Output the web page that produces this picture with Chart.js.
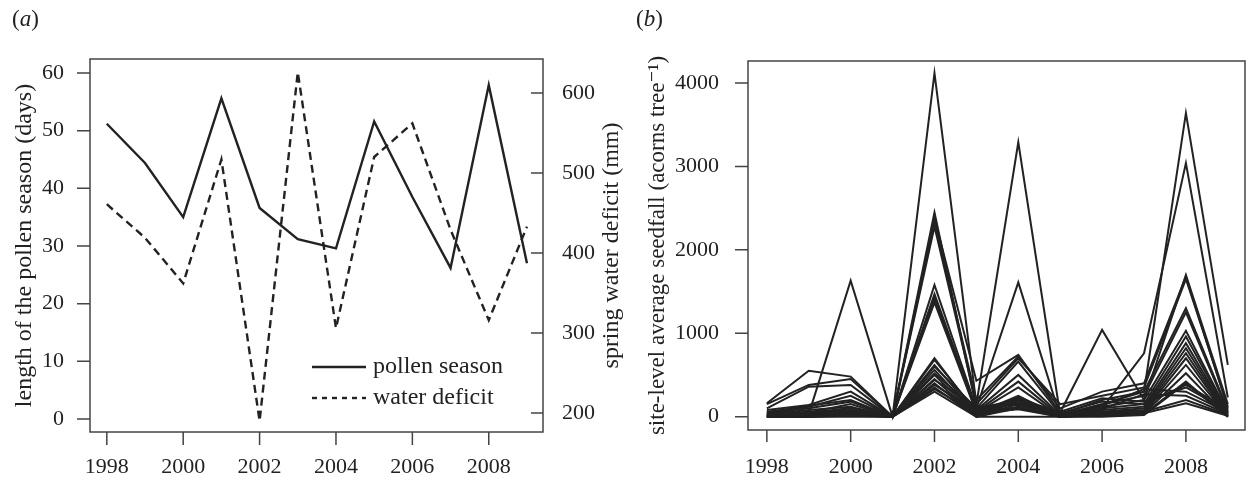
<!DOCTYPE html>
<html>
<head>
<meta charset="utf-8">
<script src="https://cdn.jsdelivr.net/npm/chart.js@4.4.1/dist/chart.umd.min.js"></script>
<style>
    body { margin: 0; background: #fff; width: 1247px; height: 477px; position: relative; overflow: hidden; }
    canvas { position: absolute; top: 0; }
    #chartA { left: 0; }
    #chartB { left: 630px; }
</style>
</head>
<body>
<canvas id="chartA" width="630" height="477"></canvas>
<canvas id="chartB" width="617" height="477"></canvas>
<script>
// Data
const years = [1998, 1999, 2000, 2001, 2002, 2003, 2004, 2005, 2006, 2007, 2008, 2009];
const pollenSeason = [51.2, 44.4, 35.0, 55.6, 36.6, 31.2, 29.6, 51.6, 38.5, 26.2, 57.9, 27.0]; // days
const waterDeficit = [461, 419, 362, 517, 190, 626, 306, 520, 562, 429, 316, 433];            // mm

// one row per site, acorns per tree for each year
const seedfallBySite = [
    [20, 50, 100, 0, 4120, 150, 3290, 20, 150, 300, 3640, 620],
    [50, 30, 1630, 0, 2450, 100, 1610, 0, 100, 760, 3040, 230],
    [160, 550, 480, 0, 2380, 430, 740, 50, 1040, 200, 1700, 150],
    [150, 380, 450, 0, 2330, 200, 720, 100, 300, 400, 1680, 100],
    [100, 360, 380, 0, 2280, 150, 700, 150, 250, 350, 1650, 120],
    [80, 140, 300, 0, 1580, 100, 660, 30, 200, 300, 1300, 80],
    [50, 130, 200, 0, 1470, 80, 500, 20, 150, 250, 1250, 60],
    [30, 50, 150, 0, 1420, 60, 420, 10, 120, 200, 1030, 50],
    [20, 40, 100, 0, 1370, 50, 350, 0, 100, 150, 960, 40],
    [10, 30, 80, 0, 700, 40, 250, 0, 80, 120, 880, 30],
    [0, 20, 60, 0, 620, 30, 220, 10, 60, 100, 820, 20],
    [0, 10, 50, 0, 560, 20, 200, 0, 50, 80, 760, 10],
    [10, 0, 40, 0, 500, 10, 180, 0, 40, 60, 700, 0],
    [0, 10, 30, 0, 450, 0, 150, 0, 30, 50, 620, 0],
    [0, 0, 20, 0, 400, 0, 120, 0, 20, 40, 520, 0],
    [0, 0, 10, 0, 350, 0, 100, 0, 10, 30, 420, 0],
    [0, 0, 0, 0, 300, 0, 0, 0, 0, 20, 400, 0],
    [30, 80, 120, 0, 680, 60, 230, 40, 180, 150, 380, 90],
    [60, 120, 250, 0, 600, 100, 200, 60, 220, 180, 350, 70],
    [40, 100, 180, 0, 520, 80, 160, 30, 130, 330, 300, 50],
    [20, 60, 70, 0, 440, 120, 140, 20, 90, 270, 250, 30],
    [10, 20, 40, 0, 380, 70, 110, 10, 60, 60, 200, 20],
    [0, 10, 20, 0, 330, 40, 90, 0, 40, 40, 160, 10]
];

// Tick labels
const yearTicks = [1998, 2000, 2002, 2004, 2006, 2008];
const pollenTicks = [0, 10, 20, 30, 40, 50, 60];
const deficitTicks = [200, 300, 400, 500, 600];
const seedfallTicks = [0, 1000, 2000, 3000, 4000];

const INK = '#222';
const FRAME = '#444';
const SERIF = "'Liberation Serif', 'DejaVu Serif', serif";

const toPoints = values => values.map((v, i) => ({ x: years[i], y: v }));
const fixedTicks = list => scale => { scale.ticks = list.map(v => ({ value: v })); };
const tickFont = { family: SERIF, size: 22 };

// box round the plot area, tick marks and panel letter
const framePlugin = {
    id: 'frame',
    afterDraw(chart, args, opts) {
        const { ctx, chartArea: a } = chart;
        ctx.save();
        ctx.strokeStyle = FRAME;
        ctx.lineWidth = 1.5;
        ctx.strokeRect(a.left, a.top, a.right - a.left, a.bottom - a.top);

        ctx.beginPath();
        opts.marks.forEach(m => {
            const s = chart.scales[m.id];
            s.ticks.forEach(t => {
                const p = s.getPixelForValue(t.value);
                if (m.side === 'bottom') { ctx.moveTo(p, a.bottom); ctx.lineTo(p, a.bottom + m.len); }
                if (m.side === 'left') { ctx.moveTo(a.left, p); ctx.lineTo(a.left - m.len, p); }
                if (m.side === 'right') { ctx.moveTo(a.right, p); ctx.lineTo(a.right - m.len, p); }
            });
        });
        ctx.stroke();

        // "(a)" with italic letter
        ctx.fillStyle = INK;
        ctx.textBaseline = 'middle';
        ctx.textAlign = 'left';
        let x = opts.letterX;
        ctx.font = `23px ${SERIF}`;
        ctx.fillText('(', x, 20);
        x += ctx.measureText('(').width;
        ctx.font = `italic 23px ${SERIF}`;
        ctx.fillText(opts.letter, x, 20);
        x += ctx.measureText(opts.letter).width;
        ctx.font = `23px ${SERIF}`;
        ctx.fillText(')', x, 20);
        ctx.restore();
    }
};

// right-hand axis title (reads bottom to top) and the legend for panel a
const panelAExtras = {
    id: 'panelAExtras',
    afterDraw(chart) {
        const { ctx, chartArea: a } = chart;
        ctx.save();
        ctx.fillStyle = INK;
        ctx.font = `24px ${SERIF}`;
        ctx.textBaseline = 'middle';

        ctx.save();
        ctx.translate(612, (a.top + a.bottom) / 2);
        ctx.rotate(-Math.PI / 2);
        ctx.textAlign = 'center';
        ctx.fillText('spring water deficit (mm)', 0, 0);
        ctx.restore();

        const legend = [
            { label: 'pollen season', dash: [], y: 367 },
            { label: 'water deficit', dash: [5, 5], y: 398 }
        ];
        ctx.strokeStyle = INK;
        ctx.lineWidth = 2.4;
        ctx.textAlign = 'left';
        legend.forEach(item => {
            ctx.setLineDash(item.dash);
            ctx.beginPath();
            ctx.moveTo(312, item.y);
            ctx.lineTo(366, item.y);
            ctx.stroke();
            ctx.fillText(item.label, 373, item.y);
        });
        ctx.restore();
    }
};

// 1. Panel (a): pollen season and water deficit
new Chart(document.getElementById('chartA'), {
    type: 'line',
    data: {
        datasets: [{
            label: 'pollen season',
            data: toPoints(pollenSeason),
            yAxisID: 'y',
            borderColor: INK,
            borderWidth: 2.4,
            pointRadius: 0,
            tension: 0
        }, {
            label: 'water deficit',
            data: toPoints(waterDeficit),
            yAxisID: 'y2',
            borderColor: INK,
            borderWidth: 2.4,
            borderDash: [8, 5],
            pointRadius: 0,
            tension: 0
        }]
    },
    options: {
        responsive: false,
        animation: false,
        layout: { padding: { top: 59, left: 0, right: 0, bottom: 0 } },
        plugins: {
            legend: { display: false },
            tooltip: { enabled: false },
            frame: {
                letter: 'a', letterX: 12,
                marks: [
                    { id: 'x', side: 'bottom', len: 13 },
                    { id: 'y', side: 'left', len: 13 },
                    { id: 'y2', side: 'right', len: 12 }
                ]
            }
        },
        scales: {
            x: {
                type: 'linear', min: 1997.56, max: 2009.42,
                afterBuildTicks: fixedTicks(yearTicks),
                afterFit: s => { s.height = 45; },
                grid: { display: false }, border: { display: false },
                ticks: { color: INK, font: tickFont, padding: 14, maxRotation: 0, callback: v => String(v) }
            },
            y: {
                position: 'left', min: -2.25, max: 62.43,
                afterBuildTicks: fixedTicks(pollenTicks),
                afterFit: s => { s.width = 90; },
                grid: { display: false }, border: { display: false },
                ticks: { color: INK, font: tickFont, padding: 18 },
                title: {
                    display: true, text: 'length of the pollen season (days)', color: INK,
                    font: { family: SERIF, size: 24, lineHeight: 1.2 }, padding: { top: 10 }
                }
            },
            y2: {
                position: 'right', min: 176.25, max: 642.5,
                afterBuildTicks: fixedTicks(deficitTicks),
                afterFit: s => { s.width = 87; },
                grid: { display: false }, border: { display: false },
                ticks: { color: INK, font: tickFont, padding: 11 }
            }
        }
    },
    plugins: [framePlugin, panelAExtras]
});

// 2. Panel (b): seedfall per site
new Chart(document.getElementById('chartB'), {
    type: 'line',
    data: {
        datasets: seedfallBySite.map((row, i) => ({
            label: 'site ' + (i + 1),
            data: toPoints(row),
            borderColor: INK,
            borderWidth: 2,
            pointRadius: 0,
            tension: 0
        }))
    },
    options: {
        responsive: false,
        animation: false,
        layout: { padding: { top: 61, left: 0, right: 2, bottom: 0 } },
        plugins: {
            legend: { display: false },
            tooltip: { enabled: false },
            frame: {
                letter: 'b', letterX: 6,
                marks: [
                    { id: 'x', side: 'bottom', len: 12 },
                    { id: 'y', side: 'left', len: 13 }
                ]
            }
        },
        scales: {
            x: {
                type: 'linear', min: 1997.55, max: 2009.41,
                afterBuildTicks: fixedTicks(yearTicks),
                afterFit: s => { s.height = 47; },
                grid: { display: false }, border: { display: false },
                ticks: { color: INK, font: tickFont, padding: 16, maxRotation: 0, callback: v => String(v) }
            },
            y: {
                position: 'left', min: -160, max: 4264,
                afterBuildTicks: fixedTicks(seedfallTicks),
                afterFit: s => { s.width = 118; },
                grid: { display: false }, border: { display: false },
                ticks: { color: INK, font: tickFont, padding: 21, callback: v => String(v) },
                title: {
                    display: true, text: 'site-level average seedfall (acorns tree\u207B\u00B9)', color: INK,
                    font: { family: SERIF, size: 23, lineHeight: 1.2 }, padding: { top: 14 }
                }
            }
        }
    },
    plugins: [framePlugin]
});
</script>
</body>
</html>
